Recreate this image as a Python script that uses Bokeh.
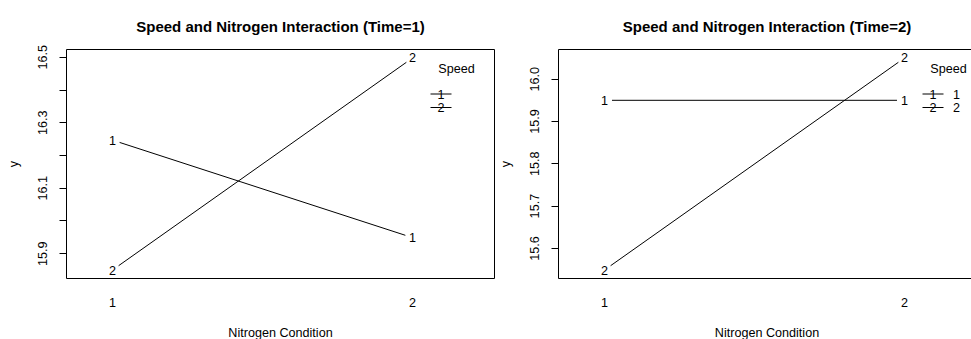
import math
from bokeh.plotting import figure
from bokeh.models import Range1d, FixedTicker, PrintfTickFormatter
from bokeh.layouts import row
from bokeh.embed import file_html
from bokeh.resources import INLINE
from bokeh.core.properties import value

# ---- data ----
nitrogen = [1, 2]
nitrogen_labels = ["1", "2"]
speed_levels = ["1", "2"]
time1_speed1 = [16.247, 15.949]
time1_speed2 = [15.850, 16.498]
time2_speed1 = [15.950, 15.950]
time2_speed2 = [15.549, 16.050]
time1_major = [15.9, 16.1, 16.3, 16.5]
time1_minor = [16.0, 16.2, 16.4]
time2_major = [15.6, 15.7, 15.8, 15.9, 16.0]
time2_minor = []

FONT = "Liberation Sans"
FS = "12.6px"
FRAME_H = 229
X_START = 0.8467
PX_PER_X = 300.0
GAP_PX = 7.5


def make_panel(title, s1, s2, major, minor, frame_w, show_leg_text, mb_left, mb_right):
    lo = min(s1 + s2)
    hi = max(s1 + s2)
    pad = 0.04 * (hi - lo)
    y0, y1 = lo - pad, hi + pad
    x0 = X_START
    x1 = X_START + frame_w / PX_PER_X
    px_y = FRAME_H / (y1 - y0)

    p = figure(frame_width=frame_w, frame_height=FRAME_H,
               x_range=Range1d(x0, x1), y_range=Range1d(y0, y1),
               output_backend="svg", toolbar_location=None,
               min_border_left=mb_left, min_border_right=mb_right,
               min_border_top=49, min_border_bottom=61)
    p.grid.visible = False
    p.outline_line_color = "black"
    p.outline_line_alpha = 1.0
    p.outline_line_width = 1
    p.background_fill_color = "white"
    p.border_fill_color = "white"

    p.title.text = title
    p.title.align = "center"
    p.title.text_font = FONT
    p.title.text_font_size = "15px"
    p.title.text_font_style = "bold"
    p.title.text_color = "black"
    p.title.standoff = 29

    def dx(px):
        return x0 + px / PX_PER_X

    def dy(px):
        return y1 - px / px_y

    # x axis
    xa = p.xaxis[0]
    xa.ticker = FixedTicker(ticks=nitrogen, minor_ticks=[])
    xa.major_label_overrides = {n: l for n, l in zip(nitrogen, nitrogen_labels)}
    xa.axis_line_color = None
    xa.major_tick_line_color = None
    xa.minor_tick_line_color = None
    xa.major_label_standoff = 13
    xa.major_label_text_font = FONT
    xa.major_label_text_font_size = FS
    xa.major_label_text_color = "black"
    xa.axis_label = "Nitrogen Condition"
    xa.axis_label_text_font = FONT
    xa.axis_label_text_font_size = FS
    xa.axis_label_text_font_style = "normal"
    xa.axis_label_text_color = "black"
    xa.axis_label_standoff = 16

    # y axis
    ya = p.yaxis[0]
    ya.ticker = FixedTicker(ticks=major, minor_ticks=minor)
    ya.formatter = PrintfTickFormatter(format="%.1f")
    ya.axis_line_color = None
    ya.major_tick_out = 7
    ya.major_tick_in = 0
    ya.minor_tick_out = 7
    ya.minor_tick_in = 0
    ya.major_tick_line_color = "black"
    ya.minor_tick_line_color = "black"
    ya.major_label_orientation = "parallel"
    ya.major_label_standoff = 12
    ya.major_label_text_font = FONT
    ya.major_label_text_font_size = FS
    ya.major_label_text_color = "black"
    ya.axis_label = "y"
    ya.axis_label_text_font = FONT
    ya.axis_label_text_font_size = FS
    ya.axis_label_text_font_style = "normal"
    ya.axis_label_text_color = "black"
    ya.axis_label_standoff = 15

    # lines with a gap around the point labels (R type="b")
    for series, lab in zip([s1, s2], speed_levels):
        sx0, sy0, sx1, sy1 = [], [], [], []
        for i in range(len(nitrogen) - 1):
            xa_, ya_ = nitrogen[i], series[i]
            xb_, yb_ = nitrogen[i + 1], series[i + 1]
            L = math.hypot((xb_ - xa_) * PX_PER_X, (yb_ - ya_) * px_y)
            t = GAP_PX / L
            sx0.append(xa_ + t * (xb_ - xa_))
            sy0.append(ya_ + t * (yb_ - ya_))
            sx1.append(xb_ - t * (xb_ - xa_))
            sy1.append(yb_ - t * (yb_ - ya_))
        p.segment(x0=sx0, y0=sy0, x1=sx1, y1=sy1, line_color="black", line_width=1)
        p.text(x=nitrogen, y=series, text=[lab] * len(nitrogen),
               text_align="center", text_baseline="middle",
               text_font=value(FONT), text_font_size=FS, text_color="black")

    # legend (drawn like R's legend, offsets in px from frame top-left)
    p.text(x=[dx(390)], y=[dy(19)], text=["Speed"], text_align="center",
           text_baseline="middle", text_font=value(FONT), text_font_size=FS,
           text_color="black")
    row_px = [44.5, 58]
    for lab, ry in zip(speed_levels, row_px):
        p.segment(x0=[dx(364)], y0=[dy(ry)], x1=[dx(385)], y1=[dy(ry)],
                  line_color="black", line_width=1)
        p.text(x=[dx(374.5)], y=[dy(ry)], text=[lab], text_align="center",
               text_baseline="middle", text_font=value(FONT), text_font_size=FS,
               text_color="black")
        if show_leg_text:
            p.text(x=[dx(398)], y=[dy(ry)], text=[lab], text_align="center",
                   text_baseline="middle", text_font=value(FONT),
                   text_font_size=FS, text_color="black")
    return p


p1 = make_panel("Speed and Nitrogen Interaction (Time=1)", time1_speed1, time1_speed2,
                time1_major, time1_minor, 428, False, 66, 1)
p2 = make_panel("Speed and Nitrogen Interaction (Time=2)", time2_speed1, time2_speed2,
                time2_major, time2_minor, 417, True, 58, 1)

layout = row(p1, p2)
open("out.html", "w").write(file_html(layout, INLINE))
